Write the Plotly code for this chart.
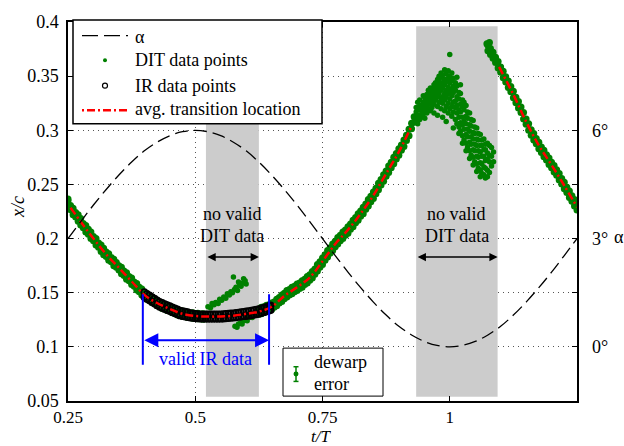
import plotly.graph_objects as go

# ---------------- data ----------------
# pitch angle alpha (deg) over one cycle
t_alpha = [0.25, 0.275, 0.3, 0.325, 0.35, 0.375, 0.4, 0.425, 0.45, 0.475, 0.5,
           0.525, 0.55, 0.575, 0.6, 0.625, 0.65, 0.675, 0.7, 0.725, 0.75,
           0.775, 0.8, 0.825, 0.85, 0.875, 0.9, 0.925, 0.95, 0.975, 1.0,
           1.025, 1.05, 1.075, 1.1, 1.125, 1.15, 1.175, 1.2, 1.225, 1.25]
alpha_deg = [3.00, 3.47, 3.93, 4.36, 4.76, 5.12, 5.43, 5.67, 5.85, 5.96, 6.00,
             5.96, 5.85, 5.67, 5.43, 5.12, 4.76, 4.36, 3.93, 3.47, 3.00,
             2.53, 2.07, 1.64, 1.24, 0.88, 0.57, 0.33, 0.15, 0.04, 0.00,
             0.04, 0.15, 0.33, 0.57, 0.88, 1.24, 1.64, 2.07, 2.53, 3.00]

# DIT transition points on the main branch, grouped by t/T -> x/c values
dit_band = [
    (0.250, [.2350, .2290, .2365]), (0.255, [.2305, .2265]), (0.260, [.2280, .2220]),
    (0.265, [.2240, .2200]), (0.270, [.2220, .2160]), (0.275, [.2185, .2125]),
    (0.280, [.2140, .2100]), (0.285, [.2120, .2060]), (0.290, [.2085, .2040]),
    (0.295, [.2060, .2000]), (0.300, [.2020, .1980]), (0.305, [.2000, .1940]),
    (0.310, [.1960, .1920]), (0.315, [.1940, .1880]), (0.320, [.1910, .1850]),
    (0.325, [.1875, .1835]), (0.330, [.1860, .1800]), (0.335, [.1825, .1785]),
    (0.340, [.1810, .1750]), (0.345, [.1780, .1735]), (0.350, [.1750, .1710]),
    (0.355, [.1735, .1675]), (0.360, [.1700, .1660]), (0.365, [.1685, .1625]),
    (0.370, [.1650, .1610]), (0.375, [.1635, .1575]), (0.380, [.1600, .1560]),
    (0.385, [.1585, .1525]), (0.390, [.1550, .1510]), (0.395, [.1535, .1480]),
    (0.400, [.1500, .1460]), (0.405, [.1490, .1440]), (0.410, [.1470, .1430]),
    (0.415, [.1460, .1410]), (0.420, [.1440, .1400]), (0.425, [.1430, .1380]),
    (0.430, [.1410, .1370]), (0.435, [.1405, .1355]), (0.440, [.1390, .1350]),
    (0.445, [.1385, .1335]), (0.450, [.1370, .1330]), (0.455, [.1365, .1315]),
    (0.460, [.1350, .1310]), (0.465, [.1345, .1295]), (0.470, [.1330, .1290]),
    (0.475, [.1330, .1280]), (0.480, [.1320, .1280]), (0.485, [.1320, .1270]),
    (0.490, [.1310, .1270]), (0.495, [.1315, .1265]), (0.500, [.1305, .1265]),
    (0.505, [.1310, .1260]), (0.510, [.1300, .1260]), (0.515, [.1305, .1255]),
    (0.520, [.1300, .1260]),
    (0.625, [.1350, .1300]), (0.630, [.1365, .1305]), (0.635, [.1370, .1320]),
    (0.640, [.1385, .1325]), (0.645, [.1390, .1340]), (0.650, [.1405, .1345]),
    (0.655, [.1415, .1365]), (0.660, [.1440, .1380]), (0.665, [.1455, .1405]),
    (0.670, [.1480, .1420]), (0.675, [.1495, .1445]), (0.680, [.1520, .1460]),
    (0.685, [.1530, .1480]), (0.690, [.1550, .1490]), (0.695, [.1560, .1510]),
    (0.700, [.1580, .1520]), (0.705, [.1590, .1540]), (0.710, [.1610, .1550]),
    (0.715, [.1625, .1575]), (0.720, [.1650, .1590]), (0.725, [.1665, .1615]),
    (0.730, [.1695, .1635]), (0.735, [.1720, .1670]), (0.740, [.1760, .1700]),
    (0.745, [.1785, .1735]), (0.750, [.1820, .1760]), (0.755, [.1850, .1800]),
    (0.760, [.1890, .1830]), (0.765, [.1915, .1865]), (0.770, [.1950, .1890]),
    (0.775, [.1975, .1925]), (0.780, [.2010, .1950]), (0.785, [.2030, .1980]),
    (0.790, [.2060, .2000]), (0.795, [.2080, .2030]), (0.800, [.2110, .2050]),
    (0.805, [.2135, .2085]), (0.810, [.2170, .2110]), (0.815, [.2195, .2145]),
    (0.820, [.2230, .2170]), (0.825, [.2255, .2205]), (0.830, [.2290, .2230]),
    (0.835, [.2320, .2270]), (0.840, [.2360, .2300]), (0.845, [.2390, .2340]),
    (0.850, [.2430, .2370]), (0.855, [.2465, .2415]), (0.860, [.2510, .2450]),
    (0.865, [.2545, .2495]), (0.870, [.2590, .2530]), (0.875, [.2625, .2575]),
    (0.880, [.2670, .2610]), (0.885, [.2705, .2655]), (0.890, [.2750, .2690]),
    (0.895, [.2785, .2735]), (0.900, [.2830, .2770]), (0.905, [.2865, .2815]),
    (0.910, [.2910, .2850]), (0.915, [.2955, .2905]), (0.920, [.3010, .2950]),
    (0.925, [.3065, .3015]), (0.930, [.3125, .3075]),
    (1.073, [.3800]), (1.075, [.3785, .3735]), (1.078, [.3810]),
    (1.080, [.3755, .3700]), (1.085, [.3720, .3665]), (1.090, [.3675, .3625]),
    (1.095, [.3635, .3575]), (1.100, [.3585, .3535]), (1.105, [.3545, .3485]),
    (1.110, [.3495, .3445]), (1.115, [.3455, .3395]), (1.120, [.3405, .3355]),
    (1.125, [.3360, .3300]), (1.130, [.3305, .3255]), (1.135, [.3265, .3205]),
    (1.140, [.3215, .3165]), (1.145, [.3165, .3105]), (1.150, [.3105, .3055]),
    (1.155, [.3060, .3000]), (1.160, [.3005, .2955]), (1.165, [.2970, .2910]),
    (1.170, [.2925, .2875]), (1.175, [.2890, .2830]), (1.180, [.2845, .2795]),
    (1.185, [.2815, .2755]), (1.190, [.2775, .2725]), (1.195, [.2745, .2685]),
    (1.200, [.2705, .2655]), (1.205, [.2675, .2615]), (1.210, [.2635, .2585]),
    (1.215, [.2600, .2540]), (1.220, [.2555, .2505]), (1.225, [.2520, .2460]),
    (1.230, [.2475, .2425]), (1.235, [.2440, .2380]), (1.240, [.2395, .2345]),
    (1.245, [.2360, .2300]), (1.250, [.2315, .2265]),
]

# DIT points inside the first gap (two short streaks)
dit_gap1 = [
    (0.525, [.137]), (0.530, [.136]), (0.533, [.140]), (0.537, [.139]),
    (0.540, [.141]), (0.545, [.140]), (0.548, [.144]), (0.552, [.143]),
    (0.556, [.146]), (0.560, [.145]), (0.563, [.149]), (0.567, [.148]),
    (0.570, [.151]), (0.573, [.150]), (0.575, [.1645]), (0.577, [.153]),
    (0.578, [.119]), (0.580, [.155]), (0.582, [.118]), (0.583, [.152]),
    (0.585, [.160, .121]), (0.587, [.157]), (0.589, [.122]), (0.590, [.156]),
    (0.592, [.121]), (0.594, [.159]), (0.595, [.163, .124]), (0.598, [.161]),
    (0.599, [.125]), (0.600, [.158]), (0.602, [.124]), (0.605, [.127]),
    (0.609, [.128]), (0.612, [.127]), (0.616, [.130]), (0.619, [.131]),
    (0.622, [.130]),
]

# DIT points inside the second gap
dit_gap2 = [
    (0.934, [.309, .317, .321]), (0.937, [.313, .319, .326, .306]),
    (0.941, [.314, .322, .310, .328]), (0.944, [.318, .323, .312]),
    (0.948, [.315, .321, .326, .332]), (0.951, [.319, .324, .330, .311]),
    (0.955, [.322, .328, .333, .316]), (0.958, [.320, .326, .331, .337]),
    (0.962, [.324, .328, .335, .318, .339]), (0.965, [.326, .332, .337, .321]),
    (0.969, [.324, .331, .335, .342, .316]), (0.972, [.328, .333, .339, .344]),
    (0.976, [.322, .331, .336, .342, .347, .314]), (0.979, [.326, .334, .339, .346, .350]),
    (0.983, [.320, .329, .337, .342, .349, .353]), (0.986, [.325, .331, .339, .344, .351, .312]),
    (0.990, [.318, .328, .334, .342, .347, .356]), (0.993, [.322, .331, .337, .345, .352, .308]),
    (0.997, [.316, .325, .334, .340, .348, .355]), (1.000, [.320, .329, .336, .344, .350, .370]),
    (1.004, [.313, .322, .332, .338, .346, .353]), (1.007, [.317, .326, .335, .341, .348, .302]),
    (1.011, [.310, .321, .327, .337, .344]), (1.014, [.306, .316, .323, .331, .341, .349]),
    (1.018, [.303, .312, .319, .329, .335, .297]), (1.021, [.299, .307, .317, .324, .334, .342]),
    (1.025, [.295, .305, .312, .322, .328, .288]), (1.028, [.291, .301, .308, .319, .326]),
    (1.032, [.288, .296, .306, .313, .323, .281]), (1.035, [.284, .294, .301, .311, .317]),
    (1.039, [.281, .289, .299, .305, .316, .274]), (1.042, [.277, .287, .294, .304, .310]),
    (1.046, [.275, .282, .292, .298, .309, .268]), (1.049, [.271, .281, .287, .297, .303]),
    (1.053, [.269, .276, .286, .292, .302, .262]), (1.056, [.265, .275, .281, .291, .297]),
    (1.060, [.263, .270, .280, .286, .296, .257]), (1.063, [.260, .269, .276, .286, .291]),
    (1.067, [.259, .266, .276, .282, .292]), (1.070, [.256, .265, .272, .282, .287]),
    (1.074, [.257, .263, .273, .279, .288]), (1.078, [.261, .271, .277, .286]),
    (1.082, [.267, .276, .284]), (1.086, [.271, .280]),
]

# IR transition points
ir_points = [
    (0.400, [.1505, .1460]), (0.405, [.1490, .1445]), (0.410, [.1475, .1430]),
    (0.415, [.1460, .1415]), (0.420, [.1445, .1400]), (0.425, [.1430, .1385]),
    (0.430, [.1415, .1370]), (0.435, [.1405, .1360]), (0.440, [.1395, .1350]),
    (0.445, [.1385, .1340]), (0.450, [.1375, .1330]), (0.455, [.1365, .1320]),
    (0.460, [.1355, .1310]), (0.465, [.1345, .1300]), (0.470, [.1335, .1290]),
    (0.475, [.1330, .1285]), (0.480, [.1325, .1280]), (0.485, [.1320, .1275]),
    (0.490, [.1312, .1270]), (0.495, [.1310, .1268]), (0.500, [.1305, .1265]),
    (0.505, [.1302, .1263]), (0.510, [.1300, .1262]), (0.515, [.1300, .1260]),
    (0.520, [.1300, .1260]), (0.525, [.1300, .1260]), (0.530, [.1300, .1260]),
    (0.535, [.1300, .1260]), (0.540, [.1300, .1260]), (0.545, [.1300, .1260]),
    (0.550, [.1300, .1260]), (0.555, [.1302, .1262]), (0.560, [.1304, .1264]),
    (0.565, [.1306, .1266]), (0.570, [.1308, .1268]), (0.575, [.1310, .1270]),
    (0.580, [.1313, .1273]), (0.585, [.1316, .1276]), (0.590, [.1320, .1280]),
    (0.595, [.1323, .1283]), (0.600, [.1327, .1285]), (0.605, [.1330, .1288]),
    (0.610, [.1334, .1292]), (0.615, [.1338, .1296]), (0.620, [.1343, .1300]),
    (0.625, [.1348, .1305]), (0.630, [.1355, .1312]), (0.635, [.1362, .1320]),
    (0.640, [.1370, .1328]), (0.645, [.1378, .1335]), (0.648, [.1383, .1340]),
]

# averaged transition location (two segments)
avg_seg1 = [
    (0.255, .2285), (0.275, .2155), (0.300, .200), (0.325, .1855), (0.350, .173),
    (0.375, .1605), (0.400, .148), (0.425, .1405), (0.450, .135), (0.475, .1305),
    (0.500, .1285), (0.525, .128), (0.550, .128), (0.575, .1288), (0.600, .1305),
    (0.625, .1325), (0.650, .137), (0.675, .147), (0.700, .155), (0.725, .164),
    (0.750, .179), (0.775, .195), (0.800, .208), (0.825, .223), (0.850, .240),
    (0.875, .260), (0.900, .280), (0.925, .304),
]
avg_seg2 = [
    (1.097, .3585), (1.125, .333), (1.150, .308), (1.175, .286), (1.200, .268),
    (1.225, .249), (1.250, .229),
]

dit_gaps = [(0.521, 0.625), (0.934, 1.094)]
ir_valid = (0.397, 0.645)

x_ticks = [0.25, 0.5, 0.75, 1.0]
x_ticktext = ["0.25", "0.5", "0.75", "1"]
y_ticks = [0.05, 0.1, 0.15, 0.2, 0.25, 0.3, 0.35, 0.4]
y_ticktext = ["0.05", "0.1", "0.15", "0.2", "0.25", "0.3", "0.35", "0.4"]
a_ticks = [0, 3, 6]
a_ticktext = ["0°", "3°", "6°"]

# ---------------- layout helpers ----------------
W, H = 624, 446
ML, MR, MT, MB = 68, 47, 14, 45
PW, PH = W - ML - MR, H - MT - MB
SERIF = "Liberation Serif, Times New Roman, serif"
GREEN = "#008000"
BLUE = "#0000ff"


def px(x):
    return (x - ML) / PW


def py(y):
    return (MT + PH - y) / PH


def flatten(groups):
    ts, vs = [], []
    for tt, vals in groups:
        for v in vals:
            ts.append(tt)
            vs.append(v)
    return ts, vs


fig = go.Figure()

fig.add_trace(go.Scatter(x=t_alpha, y=alpha_deg, yaxis="y2", mode="lines",
                         line=dict(color="black", width=1.3, dash="13px,6px", shape="spline"),
                         hoverinfo="skip"))

band_t, band_x = flatten(dit_band)
fig.add_trace(go.Scatter(x=band_t, y=band_x, mode="markers",
                         marker=dict(color=GREEN, size=7, line=dict(width=0))))

g1_t, g1_x = flatten(dit_gap1)
g2_t, g2_x = flatten(dit_gap2)
fig.add_trace(go.Scatter(x=g1_t + g2_t, y=g1_x + g2_x, mode="markers",
                         marker=dict(color=GREEN, size=5.5, line=dict(width=0))))

ir_t, ir_x = flatten(ir_points)
fig.add_trace(go.Scatter(x=ir_t, y=ir_x, mode="markers",
                         marker=dict(symbol="circle-open", color="black", size=6,
                                     line=dict(width=1.8, color="black"))))

avg_t = [p[0] for p in avg_seg1] + [None] + [p[0] for p in avg_seg2]
avg_x = [p[1] for p in avg_seg1] + [None] + [p[1] for p in avg_seg2]
fig.add_trace(go.Scatter(x=avg_t, y=avg_x, mode="lines", connectgaps=False,
                         line=dict(color="#ff0000", width=2.5, dash="8px,3px,2px,3px",
                                   shape="spline")))

shapes = []
# shaded intervals with no valid DIT data
for g0, g1 in dit_gaps:
    shapes.append(dict(type="rect", xref="x", yref="y", x0=g0, x1=g1, y0=0.054, y1=0.396,
                       fillcolor="#cccccc", line=dict(width=0), layer="between"))

# valid IR data markers
for xv in ir_valid:
    shapes.append(dict(type="line", xref="x", yref="paper", x0=xv, x1=xv,
                       y0=py(364), y1=py(292), line=dict(color=BLUE, width=2), layer="above"))

# legend box
shapes.append(dict(type="rect", xref="paper", yref="paper", x0=px(73), x1=px(322),
                   y0=py(118), y1=py(12), fillcolor="white",
                   line=dict(color="black", width=1.5), layer="above"))
shapes.append(dict(type="line", xref="paper", yref="paper", x0=px(82), x1=px(128),
                   y0=py(28), y1=py(28), line=dict(color="black", width=1.3, dash="16px,6px"),
                   layer="above"))
shapes.append(dict(type="circle", xref="paper", yref="paper", x0=px(103), x1=px(107),
                   y0=py(55), y1=py(51), fillcolor=GREEN, line=dict(width=0), layer="above"))
shapes.append(dict(type="circle", xref="paper", yref="paper", x0=px(102.5), x1=px(107.5),
                   y0=py(81.5), y1=py(76.5), fillcolor="rgba(0,0,0,0)",
                   line=dict(color="black", width=1.2), layer="above"))
shapes.append(dict(type="line", xref="paper", yref="paper", x0=px(82), x1=px(128),
                   y0=py(104), y1=py(104),
                   line=dict(color="#ff0000", width=2.5, dash="2px,3px,8px,3px"), layer="above"))

# dewarp error legend box
shapes.append(dict(type="rect", xref="paper", yref="paper", x0=px(283), x1=px(383),
                   y0=py(396), y1=py(347), fillcolor="white",
                   line=dict(color="black", width=1), layer="above"))
shapes.append(dict(type="line", xref="paper", yref="paper", x0=px(296), x1=px(296),
                   y0=py(381), y1=py(366), line=dict(color=GREEN, width=1.5), layer="above"))
for yc in (366, 381):
    shapes.append(dict(type="line", xref="paper", yref="paper", x0=px(293.5), x1=px(298.5),
                       y0=py(yc), y1=py(yc), line=dict(color=GREEN, width=1.5), layer="above"))
shapes.append(dict(type="circle", xref="paper", yref="paper", x0=px(293.5), x1=px(298.5),
                   y0=py(376), y1=py(371), fillcolor=GREEN, line=dict(width=0), layer="above"))

annotations = []


def text(x, y, s, xref="paper", yref="paper", xanchor="center", color="black",
         size=18, angle=0, height=None):
    ann = dict(x=x, y=y, xref=xref, yref=yref, text=s, showarrow=False,
               xanchor=xanchor, yanchor="middle", textangle=angle,
               font=dict(family=SERIF, size=size, color=color))
    if height is not None:
        ann["height"] = height
    annotations.append(ann)


def arrow(x0, x1, y, color, width, size):
    annotations.append(dict(x=x1, y=y, xref="x", yref="paper", ax=x0, ay=0,
                            axref="x", ayref="pixel", text="", showarrow=True,
                            arrowhead=2, arrowside="end+start", arrowsize=size,
                            arrowwidth=width, arrowcolor=color, standoff=0, startstandoff=0))


# legend labels
text(px(133), py(29), "α", xanchor="left")
text(px(133), py(53), "DIT data points", xanchor="left")
text(px(133), py(79), "IR data points", xanchor="left")
text(px(133), py(103), "avg. transition location", xanchor="left")
text(px(312), py(361), "dewarp", xanchor="left")
text(px(312), py(384), "error", xanchor="left")

# gap annotations
for g0, g1 in dit_gaps:
    mid = (g0 + g1) / 2
    text(mid, py(210), "no valid", xref="x")
    text(mid, py(233), "DIT data", xref="x")
    arrow(g0, g1, py(254), "black", 1.5, 1.1)

# valid IR annotation
arrow(ir_valid[0], ir_valid[1], py(339), BLUE, 2, 1.4)
text((ir_valid[0] + ir_valid[1]) / 2, py(358), "valid IR data", xref="x", color=BLUE)

# axis titles
text(px(18), py(203), "<i>x/c</i>", angle=-90)
text(px(321), py(437), "<i>t/T</i>", size=17, height=16)
text(px(619), py(234), "α")

axis_common = dict(ticks="inside", ticklen=5, tickcolor="black", tickwidth=1,
                   showline=True, linecolor="black", linewidth=1.5, mirror="ticks",
                   zeroline=False)

fig.update_layout(
    width=W, height=H,
    margin=dict(l=ML, r=MR, t=MT, b=MB, pad=0),
    paper_bgcolor="white", plot_bgcolor="white",
    showlegend=False,
    xaxis=dict(range=[0.25, 1.25], tickvals=x_ticks, ticktext=x_ticktext,
               showgrid=True, gridcolor="#555555", gridwidth=1, griddash="1px,4px",
               ticklabelstandoff=0, tickfont=dict(family=SERIF, size=17, color="black"),
               **axis_common),
    yaxis=dict(range=[0.05, 0.4], tickvals=y_ticks, ticktext=y_ticktext,
               showgrid=True, gridcolor="#555555", gridwidth=1, griddash="1px,4px",
               ticklabelstandoff=4, tickfont=dict(family=SERIF, size=18, color="black"),
               **axis_common),
    yaxis2=dict(range=[-1.5, 9], overlaying="y", side="right", tickvals=a_ticks,
                ticktext=a_ticktext, showgrid=False, ticks="inside", ticklen=5,
                tickcolor="black", showline=False, zeroline=False,
                ticklabelstandoff=14,
                tickfont=dict(family=SERIF, size=18, color="black")),
    shapes=shapes,
    annotations=annotations,
)

fig.write_html("out.html")
